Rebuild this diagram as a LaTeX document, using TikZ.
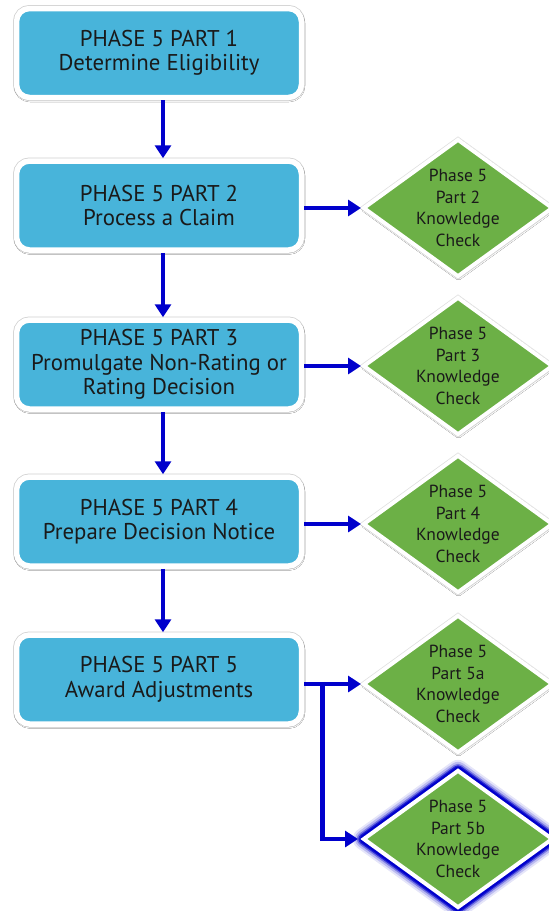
\documentclass[tikz,border=0pt]{standalone}
\usepackage{fontspec}
\setmainfont{PT Sans}
\usetikzlibrary{shapes.geometric,arrows.meta,shadows.blur,calc}
\definecolor{boxblue}{HTML}{48B4DA}
\definecolor{kcgreen}{HTML}{6CB046}
\definecolor{arrblue}{HTML}{0000CC}
\definecolor{txt}{HTML}{1A1A1A}
\tikzset{
  phasebox/.style={rectangle, rounded corners=13pt, draw=white, line width=5.5pt,
    fill=boxblue, minimum width=285pt, minimum height=89pt, align=center,
    text=txt, font=\fontsize{22.8}{24.5}\selectfont, inner sep=0pt,
    preaction={draw=black!18, line width=7pt},
    blur shadow={shadow xshift=0.5pt, shadow yshift=-1.5pt, shadow blur radius=3pt, shadow opacity=30}},
  kcheck/.style={diamond, draw=white, line width=4pt, fill=kcgreen,
    minimum width=190pt, minimum height=138pt, inner sep=0pt,
    preaction={draw=black!12, line width=5.5pt},
    blur shadow={shadow xshift=0.5pt, shadow yshift=-1.5pt, shadow blur radius=2.5pt, shadow opacity=25}},
  kctext/.style={align=center, text=txt, font=\fontsize{17.5}{21.5}\selectfont, inner sep=0pt},
  glow/.style={preaction={draw=arrblue, line width=22pt, opacity=0.10, line join=round},
    preaction={draw=arrblue, line width=18pt, opacity=0.18, line join=round},
    preaction={draw=arrblue, line width=14pt, opacity=0.35, line join=round},
    preaction={draw=arrblue, line width=11pt, opacity=0.7, line join=round},
    preaction={draw=arrblue, line width=8.5pt, opacity=1, line join=round}},
  arr/.style={draw=arrblue, line width=4.5pt, -{Triangle[width=16pt,length=13pt]}},
}
\begin{document}
\begin{tikzpicture}[x=1pt,y=-1pt]
\useasboundingbox (0,0) rectangle (549,911);
\fill[white] (0,0) rectangle (549,911);
\node[phasebox] (b1) at (159,53) {PHASE 5 PART 1\\Determine Eligibility};
\node[phasebox] (b2) at (159,205.5) {PHASE 5 PART 2\\Process a Claim};
\node[phasebox] (b3) at (159,364.5) {PHASE 5 PART 3\\Promulgate Non-Rating or\\Rating Decision};
\node[phasebox] (b4) at (159,521.5) {PHASE 5 PART 4\\Prepare Decision Notice};
\node[phasebox] (b5) at (159,679.5) {PHASE 5 PART 5\\Award Adjustments};

\node[kcheck] (d2) at (458,208) {};
\node[kcheck] (d3) at (458,366) {};
\node[kcheck] (d4) at (458,524) {};
\node[kcheck] (d5a) at (458,684) {};
\node[kcheck, glow] (d5b) at (458,839) {};

\node[kctext] (t2) at (d2) {Phase 5\\Part 2\\Knowledge\\Check};
\node[kctext] (t3) at (d3) {Phase 5\\Part 3\\Knowledge\\Check};
\node[kctext] (t4) at (d4) {Phase 5\\Part 4\\Knowledge\\Check};
\node[kctext] (t5a) at (d5a) {Phase 5\\Part 5a\\Knowledge\\Check};
\node[kctext] (t5b) at (d5b) {Phase 5\\Part 5b\\Knowledge\\Check};

\draw[arr] ([xshift=4pt]b1.south) -- ([xshift=4pt]b2.north);
\draw[arr] ([xshift=4pt]b2.south) -- ([xshift=4pt]b3.north);
\draw[arr] ([xshift=4pt]b3.south) -- ([xshift=4pt]b4.north);
\draw[arr] ([xshift=4pt]b4.south) -- ([xshift=4pt]b5.north);

\draw[arr] (b2.east |- d2.west) -- (d2.west);
\draw[arr] (b3.east |- d3.west) -- (d3.west);
\draw[arr] (b4.east |- d4.west) -- (d4.west);
\draw[arr] (b5.east |- d5a.west) -- (d5a.west);
\coordinate (j) at ($(b5.east |- d5a.west)+(18,0)$);
\draw[arr] ([yshift=2.25pt]j) |- ([xshift=-3pt]d5b.west);
\end{tikzpicture}
\end{document}
